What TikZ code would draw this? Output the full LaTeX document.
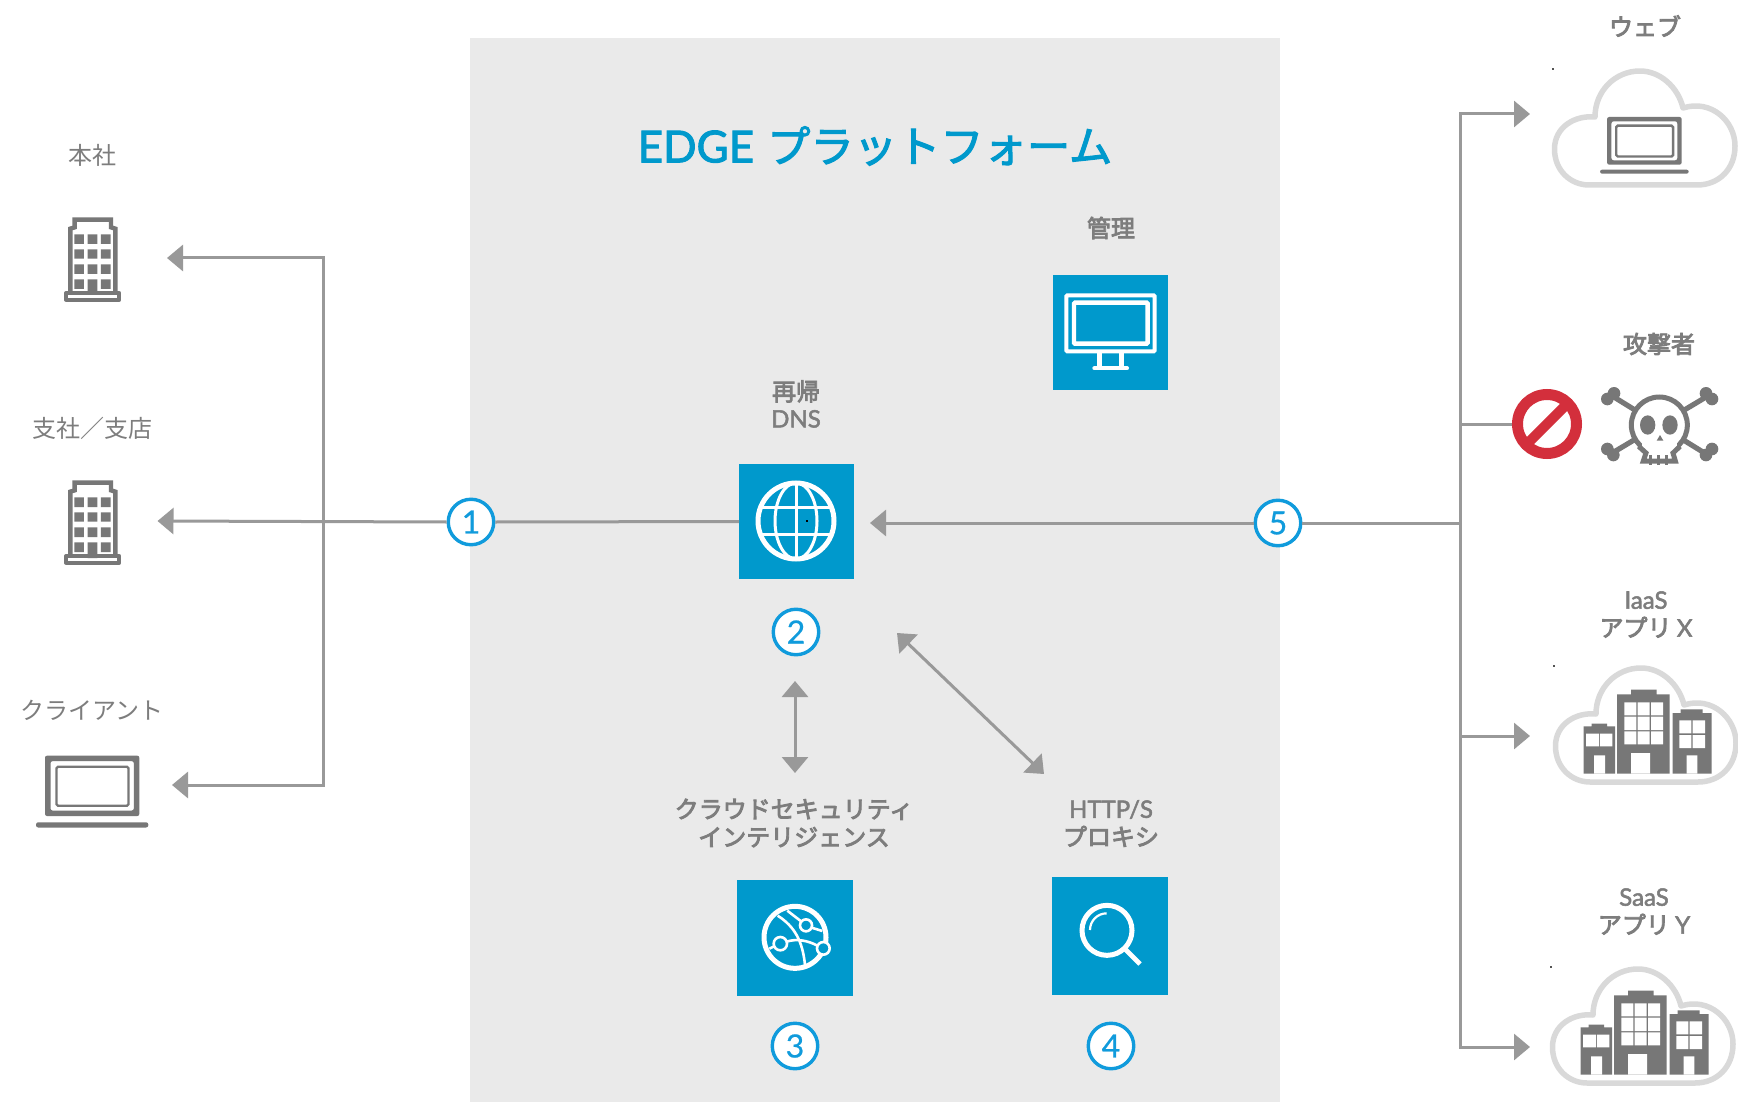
\documentclass[tikz,border=0pt]{standalone}
\usepackage{fontspec}
\usetikzlibrary{arrows.meta}
\newfontfamily\latf{Lato}
\newfontfamily\latb[FakeBold=2.2]{Lato}
\newfontfamily\latm[FakeBold=0.6]{Lato}
\newfontfamily\cjkr{Noto Sans CJK JP}
\newfontfamily\cjkt[FakeBold=2.5]{Noto Sans CJK JP}
\newfontfamily\cjkb[FakeBold=3.5]{Noto Sans CJK JP}
\definecolor{edgeblue}{HTML}{0099CC}
\definecolor{ringblue}{HTML}{109BDC}
\definecolor{panelgray}{HTML}{EAEAEA}
\definecolor{linegray}{HTML}{999999}
\definecolor{icongray}{HTML}{777777}
\definecolor{textgray}{HTML}{7D7D7D}
\definecolor{cloudgray}{HTML}{D9D9D9}
\definecolor{blockred}{HTML}{D32F3C}
\tikzset{
  conn/.style={draw=linegray,line width=3pt},
  head/.style={conn,-{Triangle[length=16pt,width=26pt,fill=linegray]}},
  dhead/.style={conn,{Triangle[length=16pt,width=26pt,fill=linegray]}-{Triangle[length=16pt,width=26pt,fill=linegray]}},
  lightlbl/.style={inner sep=0pt,text=textgray,align=center,font=\cjkr\fontsize{24}{28}\selectfont},
  boldlbl/.style={inner sep=0pt,text=textgray,align=center,font=\cjkb\fontsize{24}{28}\selectfont},
  bluebox/.style={fill=edgeblue,inner sep=0pt,outer sep=0pt,minimum size=115pt},
  numcirc/.style={circle,draw=ringblue,fill=white,line width=3.4pt,minimum size=45.5pt,inner sep=0pt,outer sep=1.7pt,text=ringblue,font=\latm\fontsize{32}{32}\selectfont},
  zoomed/.style={x=.33333pt,y=-.33333pt},
}
\newcommand{\officeicon}[2]{%
  \begin{scope}[shift={(#1,#2)},zoomed]
    \draw[icongray,line width=4pt,fill=white,line join=round] (198,519) rectangle (358,539);
    \draw[icongray,line width=4.4pt,line join=miter] (211,516) -- (211,326) -- (224,322) -- (224,299) -- (333,299) -- (333,322) -- (346,326) -- (346,516);
    \fill[icongray] (223,343) rectangle (252,372) (263,343) rectangle (292,372) (303,343) rectangle (332,372)
      (223,388) rectangle (252,416) (263,388) rectangle (292,416) (303,388) rectangle (332,416)
      (223,433) rectangle (252,462) (263,433) rectangle (292,462) (303,433) rectangle (332,462)
      (223,478) rectangle (252,507) (263,478) rectangle (292,525) (303,478) rectangle (332,507);
  \end{scope}}
\newcommand{\laptopicon}[3]{%
  \begin{scope}[shift={(#1,#2)},scale=#3]
    \fill[icongray,rounded corners=2pt,even odd rule] (9,0) rectangle (103.3,60.3) (14.5,5.5) rectangle (97.8,54.8);
    \draw[icongray,line width=2.4pt,rounded corners=1.5pt] (20.5,11) rectangle (92.5,50);
    \fill[icongray,rounded corners=2.2pt] (0,66.6) rectangle (112.3,71.8);
  \end{scope}}
\newcommand{\cloudicon}[2]{%
  \begin{scope}[shift={(#1,#2)}]
    \draw[cloudgray,line width=5.5pt,fill=white,line join=round]
      (42,48) .. controls (22,46) and (1.5,58) .. (1.5,80)
      .. controls (1.5,102) and (18,116) .. (36,116) -- (144,116)
      .. controls (166,116) and (182,100) .. (182,77)
      .. controls (182,52) and (158,30) .. (130,39)
      .. controls (125,18) and (107,2) .. (87,2)
      .. controls (62,2) and (42,22) .. (42,48) -- cycle;
    \fill[icongray!70!black] (-1,-1) rectangle (1,1);
  \end{scope}}
\newcommand{\cityicon}[2]{%
  \begin{scope}[shift={(#1,#2)}]
    \fill[icongray] (29.7,60.3) rectangle (61,107.7) (37.7,57.7) rectangle (53,61)
      (63,28.3) rectangle (115.7,107.7) (77,23.7) rectangle (102.7,29)
      (118.7,47) rectangle (157.7,107.7) (126.7,43.3) rectangle (148.7,48);
    \fill[white] (32,67.7) rectangle (45,80.3) (46,67.7) rectangle (58.3,80.3) (40,89.3) rectangle (51,107.7)
      (70.3,36.3) rectangle (82.3,49.3) (83.7,36.3) rectangle (95.7,49.3) (97,36.3) rectangle (109,49.3)
      (70.3,50.7) rectangle (82.3,64) (83.7,50.7) rectangle (95.7,64) (97,50.7) rectangle (109,64)
      (70.3,65.3) rectangle (82.3,78.3) (83.7,65.3) rectangle (95.7,78.3) (97,65.3) rectangle (109,78.3)
      (77,87) rectangle (96,107.7)
      (125.3,54.3) rectangle (137.3,67.3) (138.7,54.3) rectangle (151,67.3)
      (125.3,69) rectangle (137.3,82) (138.7,69) rectangle (151,82) (132.7,89.3) rectangle (143.3,107.7);
  \end{scope}}
\begin{document}
\begin{tikzpicture}[x=1pt,y=-1pt]
\useasboundingbox (0,0) rectangle (1738,1102);
\fill[white] (0,0) rectangle (1738,1102);
\fill[panelgray] (470,38) rectangle (1280,1102);

% blue boxes
\node[bluebox] (mgmt) at (1110.5,332.5) {};
\node[bluebox] (dns) at (796.5,521.5) {};
\node[bluebox,minimum size=116pt] (sec) at (795,938) {};
\node[bluebox,minimum width=116pt,minimum height=118pt] (http) at (1110,936) {};

% title and labels
\node[inner sep=0pt,text=edgeblue,font=\fontsize{43.3}{44}\selectfont] (title) at (875,146) {{\latb\fontsize{44}{44}\selectfont EDGE} {\cjkt プラットフォーム}};
\node[boldlbl] (lmgmt) at (1111,228) {管理};
\node[boldlbl] (ldns) at (796,404) {再帰\\[-1pt]{\latb DNS}};
\node[boldlbl] (lsec) at (794,823) {クラウドセキュリティ\\インテリジェンス};
\node[boldlbl] (lhttp) at (1111,823.5) {{\latb HTTP/S}\\プロキシ};
\node[lightlbl] (lhq) at (92,155) {本社};
\node[lightlbl] (lbr) at (92,428) {支社／支店};
\node[lightlbl] (lcl) at (92,710) {クライアント};
\node[boldlbl] (lweb) at (1645,26) {ウェブ};
\node[boldlbl] (latk) at (1659,344) {攻撃者};
\node[boldlbl] (liaas) at (1646,614.5) {{\latb IaaS}\\アプリ {\latb X}};
\node[boldlbl] (lsaas) at (1644,911.5) {{\latb SaaS}\\アプリ {\latb Y}};

% numbered circles
\node[numcirc] (c1) at (471,522) {1};
\node[numcirc] (c2) at (796,632) {2};
\node[numcirc] (c3) at (795,1046) {3};
\node[numcirc] (c4) at (1111,1046) {4};
\node[numcirc] (c5) at (1278,523) {5};

% block sign
\node[circle,draw=blockred,fill=white,line width=11pt,minimum size=59pt,inner sep=0pt,outer sep=5.5pt] (block) at (1547,424) {};
\draw[blockred,line width=10pt] (block.center) ++(-21,21) -- ++(42,-42);

% connector helpers
\coordinate (jL) at (323,521);
\coordinate (tipHQ) at (167,258);
\coordinate (tipBR) at (157.5,521);
\coordinate (tipCL) at (172,785);
\coordinate (jR) at (1460,523);
\coordinate (jA) at (1460,424);
\coordinate (jI) at (1460,736);
\coordinate (tipDNS) at (870,523);
\coordinate (tipWEB) at (1530,114);
\coordinate (tipIA) at (1530,736);
\coordinate (tipSA) at (1530,1047);
\coordinate (vUp) at (795,681);
\coordinate (vDn) at (795,773);
\coordinate (dUp) at (897,633);
\coordinate (dDn) at (1044,774);

% connectors
\draw[conn] (c1.east) -- (dns.west);
\draw[head] (c1.west) -- (tipBR);
\draw[head] (jL) |- (tipHQ);
\draw[head] (jL) |- (tipCL);
\draw[head] (c5.west) -- (tipDNS);
\draw[conn] (c5.east) -- (jR);
\draw[head] (jR) |- (tipWEB);
\draw[head] (jR) |- (tipSA);
\draw[conn] (jA) -- (block.west);
\draw[head] (jI) -- (tipIA);
\draw[dhead] (vUp) -- (vDn);
\draw[dhead] (dUp) -- (dDn);

% left icons
\officeicon{0}{120}
\officeicon{0}{383}
\laptopicon{36}{755.7}{1}

% right icons
\cloudicon{1553}{69}
\laptopicon{1600}{117}{0.79}
\cloudicon{1554}{666}
\cityicon{1554}{666}
\cloudicon{1551}{967}
\cityicon{1551}{967}

% skull
\begin{scope}[shift={(1590,375)},zoomed]
  \draw[icongray,line width=5.2pt] (70,65) -- (345,235) (350,65) -- (65,235);
  \fill[icongray] (52,72) circle (19) (72,55) circle (19) (348,55) circle (19) (366,72) circle (19)
    (52,222) circle (19) (70,240) circle (19) (348,240) circle (19) (366,222) circle (19);
  \draw[icongray,line width=5pt,fill=white] (208,150) circle (84);
  \fill[white] (155,205) rectangle (262,250);
  \draw[icongray,line width=5pt,line join=miter] (146,214) -- (168,234) -- (160,258) -- (256,258) -- (249,234) -- (270,214);
  \draw[icongray,line width=3pt] (180,240) -- (180,270) (205,240) -- (205,270) (230,240) -- (230,270);
  \fill[icongray] (173,150) ellipse (23 and 29) (240,150) ellipse (23 and 29);
  \fill[icongray] (210,180) -- (200,197) -- (220,197) -- cycle;
\end{scope}

% monitor icon
\begin{scope}[shift={(700,250)},zoomed]
  \draw[white,line width=4pt,rounded corners=1pt] (1099,136) rectangle (1364,304);
  \draw[white,line width=4.4pt,rounded corners=1pt] (1122,158) rectangle (1343,281);
  \draw[white,line width=4.4pt] (1199,304) -- (1199,352) (1265,304) -- (1265,352);
  \draw[white,line width=4pt,line cap=round] (1183,355) -- (1281,355);
  % globe icon
  \draw[white,line width=5pt] (288,813) circle (114);
  \draw[white,line width=3pt] (288,813) ellipse (63 and 114);
  \draw[white,line width=3pt] (288,699) -- (288,927) (181,773) -- (395,773) (181,853) -- (395,853);
  \fill[black] (318,810) rectangle (323,815);
\end{scope}

% network globe and magnifier icons
\begin{scope}[shift={(700,850)},zoomed]
  \draw[white,line width=5pt] (285,262) circle (93);
  \draw[white,line width=2.6pt]
    (233,197) .. controls (285,230) and (308,275) .. (315,345)
    (262,182) -- (302,213) (335,233) -- (367,243) (208,296) -- (222,289)
    (260,275) .. controls (290,265) and (325,272) .. (352,287);
  \draw[white,line width=2.6pt,fill=edgeblue] (318,226) circle (18) (241,281) circle (20) (370,295) circle (19);
  \draw[white,line width=5pt] (1221,241) circle (75);
  \draw[white,line width=2.2pt] (1170,240) arc (180:270:50);
  \draw[white,line width=4.6pt] (1275,297) -- (1320,342);
\end{scope}
\end{tikzpicture}
\end{document}
